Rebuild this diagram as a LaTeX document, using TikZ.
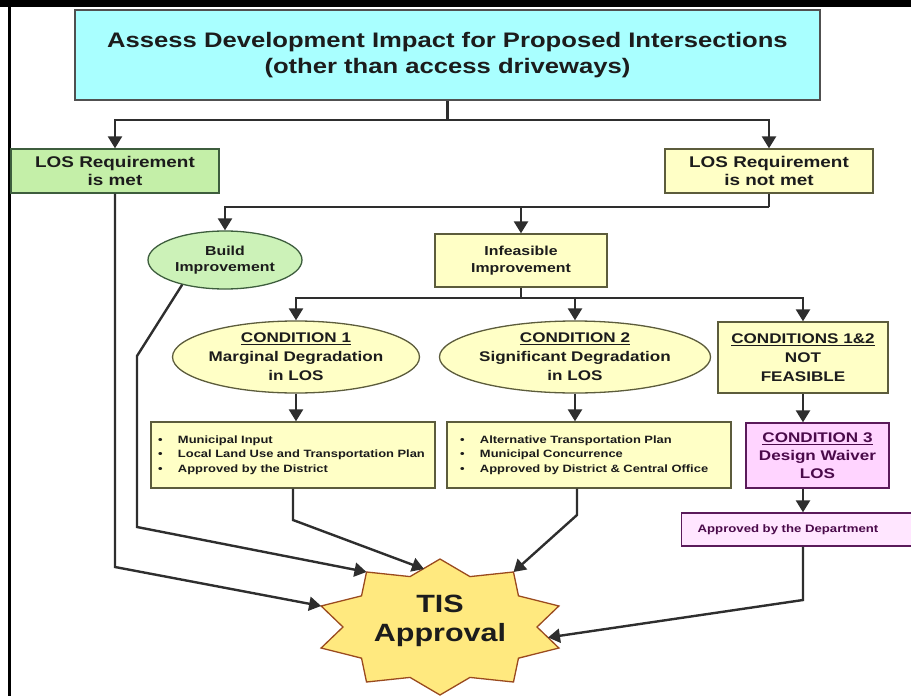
\documentclass[tikz,border=0pt]{standalone}
\usepackage{fontspec}
\setmainfont[FakeStretch=1.22]{Liberation Sans}
\usetikzlibrary{arrows.meta,shapes.geometric,calc}
\definecolor{cyanfill}{HTML}{A9FFFF}
\definecolor{greenfill}{HTML}{C4EFA8}
\definecolor{greenell}{HTML}{CCF2B8}
\definecolor{yellowfill}{HTML}{FFFFC6}
\definecolor{pinkfill}{HTML}{FFD4FF}
\definecolor{pinklight}{HTML}{FFE6FF}
\definecolor{starfill}{HTML}{FFE97F}
\definecolor{starline}{HTML}{9A4A1E}
\definecolor{linecol}{HTML}{2E2E2E}
\definecolor{txt}{HTML}{1C1C1C}
\definecolor{purpletxt}{HTML}{4A0A4A}
\definecolor{boxline}{HTML}{505050}
\definecolor{greenline}{HTML}{3D5D3D}
\definecolor{yellowline}{HTML}{5C5C3C}
\definecolor{pinkline}{HTML}{5A1A5A}
\begin{document}
\begin{tikzpicture}[x=1pt,y=-1pt,
  base/.style={line width=1.3pt, font=\bfseries, text=txt, align=center, inner sep=0pt},
  titlebox/.style={base, draw=boxline, fill=cyanfill, font=\bfseries\fontsize{21}{26}\selectfont},
  greenbox/.style={base, draw=greenline, fill=greenfill, font=\bfseries\fontsize{15.5}{17.5}\selectfont},
  yellowbox/.style={base, draw=yellowline, fill=yellowfill},
  greenellipse/.style={base, ellipse, draw=greenline, fill=greenell, font=\bfseries\fontsize{13}{16.5}\selectfont},
  yellowellipse/.style={base, ellipse, draw=yellowline, fill=yellowfill, font=\bfseries\fontsize{14}{19}\selectfont},
  listbox/.style={yellowbox, align=left, font=\bfseries\fontsize{10.6}{14.3}\selectfont},
  pinkbox/.style={base, draw=pinkline, fill=pinkfill, text=purpletxt, font=\bfseries\fontsize{14}{18}\selectfont},
  deptbox/.style={base, draw=pinkline, fill=pinklight, text=purpletxt, align=left, font=\bfseries\fontsize{10.8}{13}\selectfont},
  conn/.style={draw=linecol, line width=2.4pt},
  arr/.style={conn, -{Triangle[width=14pt,length=12pt]}},
  starshape/.style={draw=starline, line width=1.3pt, fill=starfill, line join=miter}
]
\useasboundingbox (0,0) rectangle (911,696);
% frame
\fill[black] (0,0) rectangle (911,7);
\fill[black] (8,0) rectangle (11,696);

% nodes
\node[titlebox, minimum width=745pt, minimum height=90pt] (title) at (447.5,55)
  {Assess Development Impact for Proposed Intersections\\(other than access driveways)};
\node[greenbox, minimum width=208pt, minimum height=44pt] (met) at (115,171)
  {LOS Requirement\\is met};
\node[yellowbox, font=\bfseries\fontsize{15.5}{17.5}\selectfont, minimum width=208pt, minimum height=44pt] (notmet) at (769,171)
  {LOS Requirement\\is not met};
\node[greenellipse, minimum width=154pt, minimum height=58pt] (build) at (225,260)
  {Build\\Improvement};
\node[yellowbox, font=\bfseries\fontsize{13}{16.5}\selectfont, minimum width=172pt, minimum height=53pt] (infeas) at (521,260.5)
  {Infeasible\\Improvement};
\node[yellowellipse, minimum width=200pt, minimum height=72pt] (c1) at (296,357)
  {\underline{CONDITION 1}\\Marginal Degradation\\in LOS};
\node[yellowellipse, minimum width=226pt, minimum height=72pt] (c2) at (575,357)
  {\underline{CONDITION 2}\\Significant Degradation\\in LOS};
\node[yellowbox, font=\bfseries\fontsize{14}{19}\selectfont, minimum width=170pt, minimum height=71pt] (c12) at (803,357.5)
  {\underline{CONDITIONS 1\&2}\\NOT\\FEASIBLE};
\node[listbox, minimum width=284pt, minimum height=66pt, text width=278pt, inner xsep=3pt] (box1) at (293,455)
  {\makebox[24pt][l]{\hspace{4pt}\textbullet}Municipal Input\\
   \makebox[24pt][l]{\hspace{4pt}\textbullet}Local Land Use and Transportation Plan\\
   \makebox[24pt][l]{\hspace{4pt}\textbullet}Approved by the District};
\node[listbox, minimum width=284pt, minimum height=66pt, text width=278pt, inner xsep=3pt] (box2) at (589,455)
  {\makebox[30pt][l]{\hspace{10pt}\textbullet}Alternative Transportation Plan\\
   \makebox[30pt][l]{\hspace{10pt}\textbullet}Municipal Concurrence\\
   \makebox[30pt][l]{\hspace{10pt}\textbullet}Approved by District \& Central Office};
\node[pinkbox, minimum width=143pt, minimum height=65pt] (c3) at (817.5,455.5)
  {\underline{CONDITION 3}\\Design Waiver\\LOS};
\node[deptbox, anchor=west, minimum height=33pt, text width=230pt, inner xsep=16pt] (dept) at (681,529.5)
  {Approved by the Department};

% star
\draw[starshape] plot[samples at={0,...,19}, variable=\i]
  ({440 + ifthenelse(mod(\i,2)==0,125,97)*cos(90+18*\i)},
   {627 - ifthenelse(mod(\i,2)==0,68,53)*sin(90+18*\i)}) -- cycle;
\node[text=txt, font=\bfseries\fontsize{25}{28.5}\selectfont, align=center] (tis) at (440,621) {TIS\\Approval};
\coordinate (sLU) at (321.1,606);
\coordinate (sUL) at (366.5,572);
\coordinate (sT) at (424,569);
\coordinate (sUR) at (513.5,572);
\coordinate (sR) at (548,637.5);

% junctions
\coordinate (j1) at (447.5,120);
\coordinate (j2) at (769,207);
\coordinate (j3) at (521,298);

\draw[conn] (title.south) -- (j1);
\draw[arr] (j1) -| (met.north);
\draw[arr] (j1) -| (notmet.north);
\draw[conn] (notmet.south) -- (j2);
\draw[arr] (j2) -| (build.north);
\draw[arr] (infeas.north |- j2) -- (infeas.north);
\draw[conn] (infeas.south) -- (j3);
\draw[arr] (j3) -| (c1.north);
\draw[arr] (j3) -| (c12.north);
\draw[arr] (c2.north |- j3) -- (c2.north);
\draw[arr] (c1.south) -- (c1.south |- box1.north);
\draw[arr] (c2.south) -- (c2.south |- box2.north);
\draw[arr] (c12.south) -- (c12.south |- c3.north);
\draw[arr] (c12.south |- c3.south) -- (c12.south |- dept.north);

% to TIS approval
\coordinate (k1) at (115,567);
\coordinate (k2a) at (137,356);
\coordinate (k2b) at (137,527);
\coordinate (k3) at (293,520);
\coordinate (k4) at (577,515);
\coordinate (k5) at (803,600);
\draw[arr] (met.south) -- (k1) -- (sLU);
\draw[arr] (build.210) -- (k2a) -- (k2b) -- (sUL);
\draw[arr] (box1.south) -- (k3) -- (sT);
\draw[arr] (k4 |- box2.south) -- (k4) -- (sUR);
\draw[arr] (c12.south |- dept.south) -- (k5) -- (sR);
\end{tikzpicture}
\end{document}
